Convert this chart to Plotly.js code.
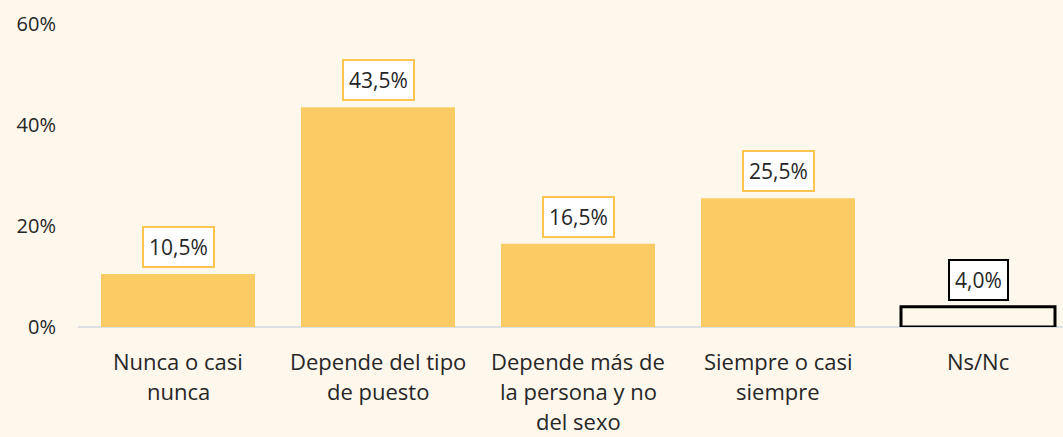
<!DOCTYPE html>
<html>
<head>
<meta charset="utf-8">
<script src="https://cdn.plot.ly/plotly-3.0.1.min.js"></script>
<style>html,body{margin:0;padding:0;background:#FEF7EC;}#chart{width:1063px;height:437px;}</style>
</head>
<body>
<div id="chart"></div>
<script>
const categories = ["Nunca o casi nunca", "Depende del tipo de puesto", "Depende más de la persona y no del sexo", "Siempre o casi siempre", "Ns/Nc"];
const labelLines = [["Nunca o casi", "nunca"], ["Depende del tipo", "de puesto"], ["Depende más de", "la persona y no", "del sexo"], ["Siempre o casi", "siempre"], ["Ns/Nc"]];
const values = [10.5, 43.5, 16.5, 25.5, 4.0];
const yTicks = [0, 20, 40, 60];

const yellow = '#FBCC63';
const bg = '#FEF7EC';
const fills = values.map((v, i) => i === 4 ? bg : yellow);
const lineColors = values.map((v, i) => i === 4 ? '#000000' : yellow);
const lineWidths = values.map((v, i) => i === 4 ? 3 : 0);
const boxColors = values.map((v, i) => i === 4 ? '#000000' : '#FBC550');

const family = '"Open Sans", "Noto Sans", sans-serif';
const tickFont = {family: family, size: 20, color: '#262626'};
const valFont = {family: family, size: 21, color: '#262626'};
const catFont = {family: family, size: 22, color: '#262626'};

const annotations = [];
values.forEach((v, i) => {
  annotations.push({
    x: i, y: v, xref: 'x', yref: 'y', yanchor: 'bottom', xanchor: 'center', yshift: 6,
    text: v.toFixed(1).replace('.', ',') + '%', showarrow: false,
    font: valFont, bgcolor: '#FFFFFF', bordercolor: boxColors[i], borderwidth: 2, borderpad: 5
  });
});
labelLines.forEach((lines, i) => {
  lines.forEach((t, j) => {
    annotations.push({
      x: i, y: 0, xref: 'x', yref: 'y', yanchor: 'middle', xanchor: 'center',
      yshift: -(34 + j * 30), text: t, showarrow: false, font: catFont, borderpad: 0
    });
  });
});

const trace = {
  type: 'bar',
  x: categories.map((c, i) => i),
  y: values,
  marker: {color: fills, line: {color: lineColors, width: lineWidths}},
  hoverinfo: 'skip'
};

const layout = {
  width: 1063, height: 437,
  margin: {l: 78, r: 0, t: 24, b: 110},
  paper_bgcolor: bg, plot_bgcolor: bg,
  font: tickFont,
  bargap: 0.23,
  showlegend: false,
  xaxis: {range: [-0.5, 4.425], showticklabels: false, showgrid: false, zeroline: false, showline: false, ticks: ''},
  yaxis: {range: [0, 60], tickvals: yTicks, ticktext: yTicks.map(t => t + '%'), showgrid: false,
          zeroline: true, zerolinecolor: '#DCDFE4', zerolinewidth: 2, showline: false,
          ticks: 'outside', ticklen: 17, tickcolor: 'rgba(0,0,0,0)', tickfont: tickFont},
  annotations: annotations
};

Plotly.newPlot('chart', [trace], layout, {displayModeBar: false, staticPlot: true});
</script>
</body>
</html>
